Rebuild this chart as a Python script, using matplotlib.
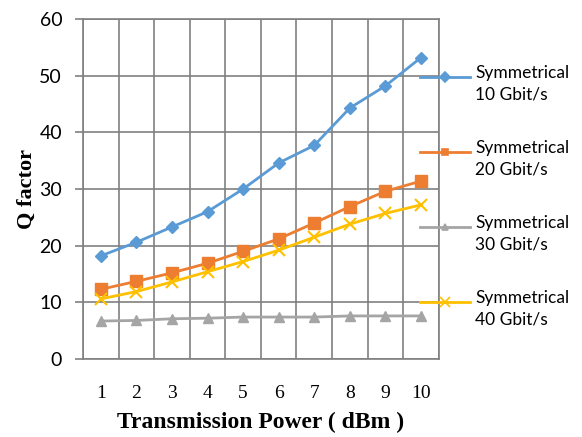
import numpy as np
import matplotlib
matplotlib.use('Agg')
import matplotlib.pyplot as plt
from matplotlib.lines import Line2D

power = [1, 2, 3, 4, 5, 6, 7, 8, 9, 10]
q_10g = [18.2, 20.6, 23.3, 26.0, 30.0, 34.6, 37.7, 44.3, 48.2, 53.2]
q_20g = [12.3, 13.7, 15.2, 16.9, 19.0, 21.2, 24.0, 26.9, 29.6, 31.4]
q_30g = [6.7, 6.8, 7.1, 7.2, 7.4, 7.4, 7.4, 7.6, 7.6, 7.6]
q_40g = [10.6, 11.9, 13.6, 15.4, 17.2, 19.2, 21.5, 23.8, 25.7, 27.2]

names = ['Symmetrical', 'Symmetrical', 'Symmetrical', 'Symmetrical']
rates = ['10 Gbit/s', '20 Gbit/s', '30 Gbit/s', '40 Gbit/s']
colors = ['#5B9BD5', '#ED7D31', '#A5A5A5', '#FFC000']
markers = ['D', 's', '^', 'x']
msizes = [6, 8, 7, 8]

plt.rcParams['font.family'] = ['Lato', 'DejaVu Sans']

W, H = 582, 437
fig = plt.figure(figsize=(5.82, 4.37), dpi=100)
ax = fig.add_axes([0.1426, 0.1785, 0.6114, 0.778])

for ys, c, m, ms in zip([q_10g, q_20g, q_30g, q_40g], colors, markers, msizes):
	ax.plot(power, ys, color=c, marker=m, markersize=ms, lw=2,
	        markeredgewidth=1.5 if m == 'x' else 1)

ax.set_xlim(0.5, 10.5)
ax.set_ylim(0, 60)
ax.set_yticks(np.arange(0, 61, 10))
ax.set_xticks(power)
ax.set_xticks(np.arange(0.5, 10.6, 1), minor=True)
ax.grid(True, which='minor', axis='x', color='#808080', lw=1.2)
ax.grid(True, which='major', axis='y', color='#808080', lw=1.2)
ax.set_axisbelow(True)
for s in ax.spines.values():
	s.set_color('#808080')
	s.set_linewidth(1.2)
ax.tick_params(axis='x', which='both', length=0, pad=19, labelsize=14)
for t in ax.get_xticklabels():
	t.set_family('Liberation Serif')
ax.tick_params(axis='y', length=6, color='#808080', width=1.2, labelsize=14, pad=9)

ax.set_xlabel('Transmission Power ( dBm )', family='Liberation Serif', weight='bold', fontsize=17, labelpad=7)
ax.set_ylabel('Q factor', family='Liberation Serif', weight='bold', fontsize=16, labelpad=2)

# legend drawn by hand: handle sits beside the first text line
for k, (c, m, nm, rt) in enumerate(zip(colors, markers, names, rates)):
	yl = 1 - (77 + 75 * k) / H
	fig.add_artist(Line2D([420 / W, 470 / W], [yl, yl], color=c, lw=2, transform=fig.transFigure))
	fig.add_artist(Line2D([445 / W], [yl], color=c, marker=m, markersize=5 if m != 'x' else 7,
	                      markeredgewidth=1.2, transform=fig.transFigure))
	fig.text(475 / W, yl + 12 / H, nm + '\n' + rt, fontsize=12.5, va='top', ha='left',
	         linespacing=1.45, transform=fig.transFigure)

fig.savefig('out.png', dpi=100)
